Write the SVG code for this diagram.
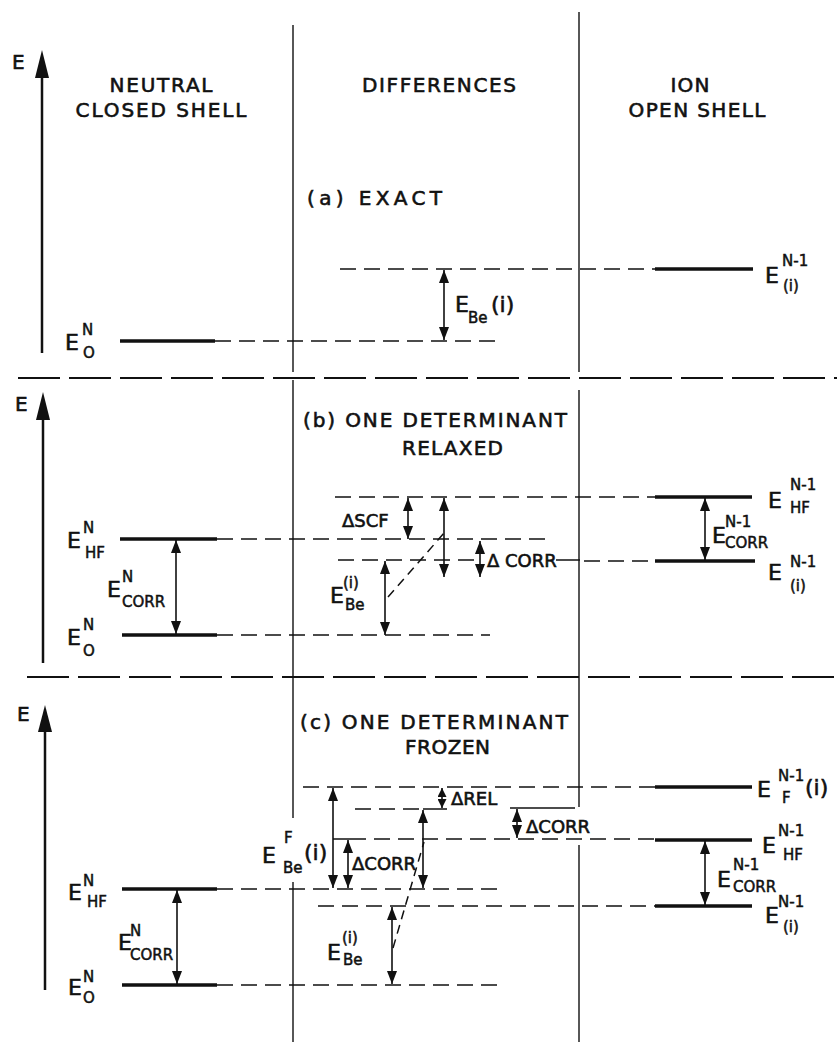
<svg xmlns="http://www.w3.org/2000/svg" width="837" height="1053" viewBox="0 0 837 1053">
<style>
text{font-family:"DejaVu Sans","Liberation Sans",sans-serif;fill:#111;stroke:#111;stroke-width:0.6}
.h{font-size:20px}
.ax{font-size:20px}
.L{font-size:22px}
.s{font-size:15px;stroke-width:0.5}
.d{font-size:18px}
.lv{stroke:#111;stroke-width:3.5;fill:none}
.ds{stroke:#111;stroke-width:1.5;stroke-dasharray:16 8;fill:none}
.sep{stroke:#111;stroke-width:2;stroke-dasharray:42 9;fill:none}
.dv{stroke:#111;stroke-width:1.4;fill:none}
.ar{stroke:#111;stroke-width:1.6;fill:none;marker-start:url(#ah);marker-end:url(#ah)}
.ars{stroke:#111;stroke-width:1.6;fill:none;marker-start:url(#as);marker-end:url(#as)}
.th{stroke:#111;stroke-width:1.5;fill:none}
.axl{stroke:#111;stroke-width:2.5;fill:none}
</style>
<defs>
<marker id="ah" viewBox="0 0 13 10" refX="13" refY="5" markerWidth="13" markerHeight="10" markerUnits="userSpaceOnUse" orient="auto-start-reverse"><path d="M0,0 L13,5 L0,10 z" fill="#111"/></marker>
<marker id="as" viewBox="0 0 9 9" refX="9" refY="4.5" markerWidth="9" markerHeight="9" markerUnits="userSpaceOnUse" orient="auto-start-reverse"><path d="M0,0 L9,4.5 L0,9 z" fill="#111"/></marker>
</defs>
<rect width="837" height="1053" fill="#fff"/>

<g id="frame">
<path class="dv" d="M293,25V372M293,380V818M293,882V1042"/>
<path class="dv" d="M579,12V372M579,390V807M579,845V1042"/>
<path class="sep" d="M18,378H837"/>
<path class="sep" d="M27,677H837"/>
</g>

<g id="headers">
<text class="h" x="161" y="92" text-anchor="middle" textLength="103">NEUTRAL</text>
<text class="h" x="161" y="117" text-anchor="middle" textLength="171">CLOSED SHELL</text>
<text class="h" x="439" y="92" text-anchor="middle" textLength="154">DIFFERENCES</text>
<text class="h" x="690" y="92" text-anchor="middle" textLength="39">ION</text>
<text class="h" x="697" y="117" text-anchor="middle" textLength="137">OPEN SHELL</text>
</g>

<!-- Section (a) -->
<g id="axis-a">
<path class="axl" d="M42,353V70"/><polygon points="42,50 35,78 49,78" fill="#111"/>
<text class="ax" x="12" y="69">E</text>
</g>
<g id="title-a"><text class="h" x="307" y="205" textLength="135">(a)  EXACT</text></g>
<g id="a-E0N">
<path class="lv" d="M120,341H215"/><path class="ds" d="M215,341H497"/>
<text class="L" x="65" y="350">E</text><text class="s" x="82" y="335">N</text><text class="s" x="83" y="358">O</text>
</g>
<g id="a-EiN1">
<path class="ds" d="M340,269H655"/><path class="lv" d="M655,269H753"/>
<text class="L" x="765" y="283">E</text><text class="s" x="782" y="266">N-1</text><text class="s" x="783" y="291">(i)</text>
</g>
<g id="a-EBe">
<text class="L" x="455" y="312">E</text><text class="s" x="468" y="323">Be</text><text class="L" x="491" y="312">(i)</text>
</g>

<!-- Section (b) -->
<g id="axis-b">
<path class="axl" d="M43,663V410"/><polygon points="43,392 36,420 50,420" fill="#111"/>
<text class="ax" x="15" y="411">E</text>
</g>
<g id="title-b">
<text class="h" x="303" y="427" textLength="264">(b)  ONE DETERMINANT</text>
<text class="h" x="402" y="455" textLength="101">RELAXED</text>
</g>
<g id="b-EHFN">
<path class="lv" d="M120,539H217"/><path class="ds" d="M217,539H550"/>
<text class="L" x="67" y="548">E</text><text class="s" x="83" y="533">N</text><text class="s" x="85" y="558">HF</text>
</g>
<g id="b-E0N">
<path class="lv" d="M122,635H217"/><path class="ds" d="M217,635H490"/>
<text class="L" x="67" y="645">E</text><text class="s" x="83" y="630">N</text><text class="s" x="83" y="656">O</text>
</g>
<g id="b-ECORRN">
<text class="L" x="107" y="597">E</text><text class="s" x="122" y="582">N</text><text class="s" x="122" y="607">CORR</text>
</g>
<g id="b-EHFN1">
<path class="ds" d="M335,497H655"/><path class="lv" d="M655,497H752"/>
<text class="L" x="768" y="508">E</text><text class="s" x="790" y="490">N-1</text><text class="s" x="790" y="513">HF</text>
</g>
<g id="b-EiN1">
<path class="ds" d="M338,560H478"/><path class="th" d="M556,560H580"/><path class="ds" d="M584,561H655"/><path class="lv" d="M655,561H755"/>
<text class="L" x="768" y="580">E</text><text class="s" x="790" y="567">N-1</text><text class="s" x="790" y="591">(i)</text>
</g>
<g id="b-ECORRN1">
<text class="L" x="712" y="543">E</text><text class="s" x="725" y="527">N-1</text><text class="s" x="725" y="548">CORR</text>
</g>
<g id="b-dSCF"><text class="d" x="342" y="527">ΔSCF</text></g>
<g id="b-dCORR"><text class="d" x="487" y="567">Δ CORR</text></g>
<g id="b-EBe">
<text class="L" x="330" y="603">E</text><text class="s" x="343" y="588">(i)</text><text class="s" x="345" y="610">Be</text>
</g>

<!-- Section (c) -->
<g id="axis-c">
<path class="axl" d="M45,990V725"/><polygon points="45,705 38,732 52,732" fill="#111"/>
<text class="ax" x="17" y="721">E</text>
</g>
<g id="title-c">
<text class="h" x="300" y="729" textLength="268">(c)  ONE DETERMINANT</text>
<text class="h" x="405" y="754" textLength="85">FROZEN</text>
</g>
<g id="c-EHFN">
<path class="lv" d="M122,889H217"/><path class="ds" d="M217,889H503"/>
<text class="L" x="68" y="900">E</text><text class="s" x="83" y="886">N</text><text class="s" x="87" y="907">HF</text>
</g>
<g id="c-E0N">
<path class="lv" d="M122,985H217"/><path class="ds" d="M217,985H505"/>
<text class="L" x="68" y="995">E</text><text class="s" x="83" y="982">N</text><text class="s" x="83" y="1003">O</text>
</g>
<g id="c-ECORRN">
<text class="L" x="118" y="950">E</text><text class="s" x="130" y="936">N</text><text class="s" x="130" y="960">CORR</text>
</g>
<g id="c-EFN1">
<path class="ds" d="M303,787H655"/><path class="lv" d="M655,787H752"/>
<text class="L" x="757" y="797">E</text><text class="s" x="778" y="781">N-1</text><text class="s" x="782" y="803">F</text><text class="L" x="805" y="795">(i)</text>
</g>
<g id="c-EHFN1">
<path class="th" d="M333,839H350"/><path class="ds" d="M350,839H655"/><path class="lv" d="M655,840H752"/>
<text class="L" x="762" y="853">E</text><text class="s" x="778" y="836">N-1</text><text class="s" x="783" y="860">HF</text>
</g>
<g id="c-EiN1">
<path class="ds" d="M318,906H655"/><path class="lv" d="M655,906H752"/>
<text class="L" x="765" y="923">E</text><text class="s" x="778" y="907">N-1</text><text class="s" x="783" y="932">(i)</text>
</g>
<g id="c-ECORRN1">
<text class="L" x="717" y="887">E</text><text class="s" x="733" y="870">N-1</text><text class="s" x="733" y="892">CORR</text>
</g>
<g id="c-rel">
<path class="ds" d="M355,809H423"/><path class="th" d="M423,809H447"/>
<text class="d" x="451" y="805">ΔREL</text>
</g>
<g id="c-dCORRr">
<path class="th" d="M510,808H575"/>
<text class="d" x="526" y="833">ΔCORR</text>
</g>
<g id="c-dCORRl"><text class="d" x="352" y="870">ΔCORR</text></g>
<g id="c-EBeF">
<text class="L" x="262" y="863">E</text><text class="s" x="284" y="843">F</text><text class="s" x="283" y="873">Be</text><text class="L" x="304" y="860">(i)</text>
</g>
<g id="c-EBe">
<text class="L" x="327" y="960">E</text><text class="s" x="342" y="943">(i)</text><text class="s" x="343" y="965">Be</text>
</g>

<g id="connectors">
<path class="ar" d="M444,270V340"/>
<path class="ar" d="M176,540V634"/>
<path class="ar" d="M408,498V539"/>
<path class="ar" d="M444,498V577"/>
<path class="ar" d="M480,541V577"/>
<path class="ar" d="M385,561V635"/>
<path class="ar" d="M705,498V560"/>
<path class="ds" d="M388,597L445,532" style="stroke-dasharray:9 6"/>
<path class="ar" d="M177,890V984"/>
<path class="ar" d="M333,788V888"/>
<path class="ar" d="M348,840V888"/>
<path class="ar" d="M423,810V888"/>
<path class="ars" d="M442,788V808"/>
<path class="ar" d="M517,809V838"/>
<path class="ar" d="M392,907V984"/>
<path class="ar" d="M705,841V905"/>
<path class="ds" d="M393,948L424,842" style="stroke-dasharray:9 6"/>
</g>
</svg>
